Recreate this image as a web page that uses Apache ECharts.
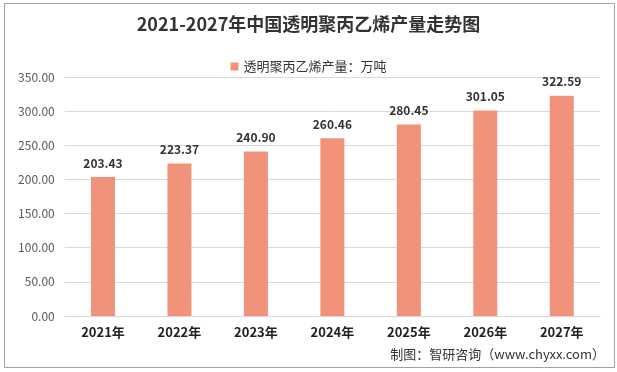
<!DOCTYPE html>
<html><head><meta charset="utf-8">
<script src="https://cdn.jsdelivr.net/npm/echarts@6/dist/echarts.min.js"></script>
<style>html,body{margin:0;padding:0;background:#fff}#c{width:617px;height:372px}</style>
</head><body><div id="c"></div>
<script>
const categories = ['2021年','2022年','2023年','2024年','2025年','2026年','2027年'];
const values = [203.43, 223.37, 240.90, 260.46, 280.45, 301.05, 322.59];
const seriesName = '透明聚丙乙烯产量：万吨';
const chart = echarts.init(document.getElementById('c'));
const font = '"Microsoft YaHei","Noto Sans CJK SC",sans-serif';
chart.setOption({
  animation:false,
  backgroundColor:'#fff',
  graphic:[
    {type:'rect',shape:{x:4.5,y:3.5,width:610,height:364},style:{fill:'none',stroke:'#a0a0a0',lineWidth:1}},
    {type:'text',right:12,top:348,style:{text:'制图：智研咨询（www.chyxx.com）',fill:'#333',font:'13px '+font}}
  ],
  title:{text:'2021-2027年中国透明聚丙乙烯产量走势图',left:'center',top:10,
    textStyle:{fontSize:18,fontWeight:'bold',color:'#333',fontFamily:font}},
  legend:{top:55,left:'center',itemWidth:8,itemHeight:8,icon:'rect',itemGap:4,
    textStyle:{fontSize:13,color:'#333',fontFamily:font},data:[seriesName]},
  grid:{left:64.75,right:17,top:77,bottom:56,containLabel:false},
  xAxis:{type:'category',data:categories,
    axisLine:{show:true,lineStyle:{color:'#d9d9d9'}},axisTick:{show:false},
    axisLabel:{color:'#222',fontSize:13,fontWeight:'bold',fontFamily:font,margin:10}},
  yAxis:{type:'value',min:0,max:350,interval:50,
    axisLine:{show:false},axisTick:{show:false},
    splitLine:{lineStyle:{color:'#d9d9d9'}},
    axisLabel:{color:'#595959',fontSize:12,fontFamily:font,formatter:v=>v.toFixed(2),margin:10}},
  series:[{name:seriesName,type:'bar',data:values,barWidth:24,
    itemStyle:{color:'#F0937A'},
    label:{show:true,position:'top',distance:8,color:'#333',fontSize:12,fontWeight:'bold',fontFamily:font,
      formatter:p=>p.value.toFixed(2)}}]
});
</script></body></html>
